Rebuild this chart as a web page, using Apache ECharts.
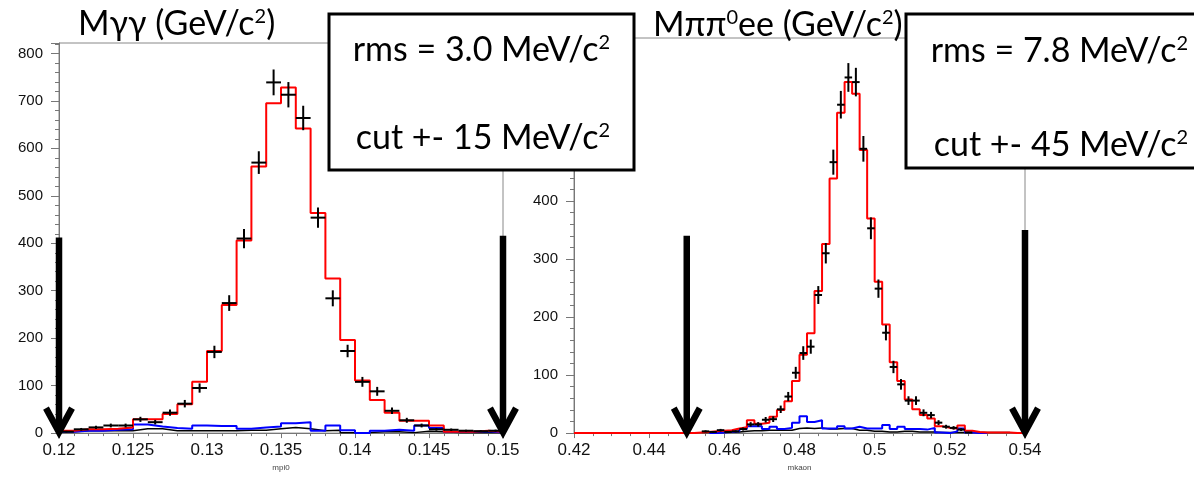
<!DOCTYPE html>
<html>
<head>
<meta charset="utf-8">
<script src="https://cdn.jsdelivr.net/npm/echarts@6/dist/echarts.min.js"></script>
<style>
  html, body { margin: 0; padding: 0; background: #fff; }
  #chart { width: 1194px; height: 477px; }
</style>
</head>
<body>
<div id="chart"></div>
<script>
// left panel: M(gamma gamma), 30 bins of 0.001 from 0.12
var binLoL = 0.12
var binWL = 0.001
var redL = [5, 8, 8, 9, 12, 29, 29, 40, 61, 108, 173, 270, 406, 562, 695, 728, 642, 464, 326, 196, 111, 70, 43, 26, 26, 16, 3, 3, 5, 3]
var dataL = [3, 8, 12, 16, 16, 29, 23, 43, 62, 95, 171, 274, 410, 570, 739, 713, 664, 454, 284, 173, 108, 88, 47, 27, 16, 8, 7, 5, 4, 5]
var blueL = [3, 5, 5, 7, 8, 18, 14, 11, 9, 16, 15, 15, 9, 12, 14, 21, 23, 5, 16, 6, 0, 5, 7, 5, 16, 11, 3, 3, 4, 1]
var blackL = [3, 5, 5, 5, 5, 9, 9, 5, 5, 5, 5, 5, 6, 6, 9, 12, 9, 5, 6, 1, 1, 3, 3, 1, 4, 3, 1, 1, 1, 1]
var arrowsL = [[0.12, 412], [0.15, 416]]

// right panel: M(pi pi0 e e), 60 bins of 0.002 from 0.42
var binLoR = 0.42
var binWR = 0.002
var redR = [0, 0, 0, 0, 0, 0, 0, 0, 0, 0, 0, 0, 0, 0, 0, 0, 1, 2, 3, 4,
  5, 8, 10, 22, 16, 18, 28, 40, 55, 90, 135, 172, 245, 326, 439, 552, 605, 585, 488, 370,
  261, 187, 122, 90, 58, 41, 31, 25, 12, 9, 8, 13, 4, 2, 1, 1, 1, 1, 0, 0]
var dataR = [null, null, null, null, null, null, null, null, null, null, null, null, null, null, null, null, null, 3, 2, 5,
  2, 3, 7, 15, 15, 23, 24, 41, 63, 104, 138, 149, 238, 310, 467, 566, 613, 605, 490, 353,
  249, 173, 114, 84, 56, 56, 35, 31, 18, 11, 9, 6, 1, null, null, null, null, null, null, null]
var blueR = [null, null, null, null, null, null, null, null, null, null, null, null, null, null, null, null, null, null, 0, 1,
  2, 3, 7, 12, 12, 7, 11, 7, 9, 18, 29, 19, 22, 8, 8, 12, 8, 11, 8, 8,
  8, 14, 7, 11, 7, 7, 6, 9, 1, 0, 3, 8, 1, 0, 0, null, null, null, null, null]
var blackR = [null, null, null, null, null, null, null, null, null, null, null, null, null, null, null, null, null, 1, 1, 1,
  2, 2, 3, 4, 4, 5, 5, 5, 5, 8, 9, 8, 9, 7, 7, 8, 8, 5, 5, 3,
  3, 2, 2, 3, 3, 2, 2, 2, 1, 1, 1, 1, 1, 1, 1, 1, 1, 1, null, null]
var arrowsR = [[0.45, 340], [0.54, 350]]

// histogram outline: two points per bin
function histLine(lo, w, vals) {
  var pts = []
  vals.forEach(function(v, i) {
    if (v == null) {
      pts.push([lo + i * w, '-'])
      return
    }
    pts.push([lo + i * w, v], [lo + (i + 1) * w, v])
  })
  return pts
}

// data points: [center, count, half width]
function crossData(lo, w, vals) {
  var out = []
  vals.forEach(function(v, i) {
    if (v == null) return
    out.push([lo + (i + 0.5) * w, v, w / 2])
  })
  return out
}

function crossItem(params, api) {
  var x = api.value(0)
  var n = api.value(1)
  var hw = api.value(2)
  var e = Math.sqrt(n)
  var l = api.coord([x - hw, n])
  var r = api.coord([x + hw, n])
  var lo = api.coord([x, Math.max(n - e, 0)])
  var hi = api.coord([x, n + e])
  var st = { stroke: '#000', lineWidth: 2 }
  return {
    type: 'group',
    children: [
      { type: 'line', shape: { x1: l[0], y1: l[1], x2: r[0], y2: r[1] }, style: st },
      { type: 'line', shape: { x1: lo[0], y1: lo[1], x2: hi[0], y2: hi[1] }, style: st }
    ]
  }
}

function arrowItem(params, api) {
  var top = api.coord([api.value(0), api.value(1)])
  var tip = api.coord([api.value(0), 0])
  var st = { stroke: '#000', lineWidth: 6.5, fill: null, lineJoin: 'miter' }
  return {
    type: 'group',
    children: [
      { type: 'line', shape: { x1: top[0], y1: top[1], x2: tip[0], y2: tip[1] - 4 }, style: st },
      { type: 'polyline', shape: { points: [[tip[0] - 13, tip[1] - 25], [tip[0], tip[1] - 1], [tip[0] + 13, tip[1] - 25]] }, style: st }
    ]
  }
}

function fmtX(v) {
  return String(+v.toFixed(3))
}

var axisGray = '#777'
var labelFont = 'Liberation Sans'

function xAxisCfg(idx, min, max, interval, minorSplit, name) {
  return {
    type: 'value',
    gridIndex: idx,
    min: min,
    max: max,
    interval: interval,
    name: name,
    nameLocation: 'middle',
    nameGap: 29,
    nameTextStyle: { fontSize: 8, color: '#444', fontFamily: labelFont },
    axisLine: { lineStyle: { color: axisGray, width: 1 } },
    axisTick: { length: 5, lineStyle: { color: axisGray } },
    minorTick: { show: true, splitNumber: minorSplit, length: 3, lineStyle: { color: axisGray } },
    splitLine: { show: false },
    axisLabel: { formatter: fmtX, fontSize: 17, color: '#111', fontFamily: labelFont, margin: 9 }
  }
}

function yAxisCfg(idx, max) {
  return {
    type: 'value',
    gridIndex: idx,
    min: 0,
    max: max,
    interval: 100,
    axisLine: { show: true, lineStyle: { color: axisGray, width: 1 } },
    axisTick: { length: 8, lineStyle: { color: axisGray } },
    minorTick: { show: true, splitNumber: 5, length: 4, lineStyle: { color: axisGray } },
    splitLine: { show: false },
    axisLabel: { fontSize: 15, color: '#111', fontFamily: labelFont, margin: 16, showMaxLabel: false }
  }
}

function histSeries(idx, lo, w, vals, color, width, z) {
  return {
    type: 'line',
    xAxisIndex: idx,
    yAxisIndex: idx,
    data: histLine(lo, w, vals),
    symbol: 'none',
    lineStyle: { color: color, width: width },
    z: z,
    silent: true
  }
}

var textFont = 'Lato'
var richText = {
  a: { fontFamily: textFont, fontSize: 34, color: '#000' },
  s: { fontFamily: textFont, fontSize: 20, color: '#000', verticalAlign: 'top' }
}

function slideText(x, y, txt, align, z) {
  return {
    type: 'text',
    x: x,
    y: y,
    z: z,
    style: { text: txt, rich: richText, fill: '#000', align: align, verticalAlign: 'middle' }
  }
}

var chart = echarts.init(document.getElementById('chart'))
chart.setOption({
  animation: false,
  backgroundColor: '#fff',
  grid: [
    { left: 59, top: 43, width: 444, height: 405, show: true, borderColor: '#888', borderWidth: 1, containLabel: false },
    { left: 574, top: 38, width: 451, height: 409, show: true, borderColor: '#888', borderWidth: 1, containLabel: false }
  ],
  xAxis: [
    xAxisCfg(0, 0.12, 0.15, 0.005, 5, 'mpi0'),
    xAxisCfg(1, 0.42, 0.54, 0.02, 4, 'mkaon')
  ],
  yAxis: [
    yAxisCfg(0, 822),
    yAxisCfg(1, 681)
  ],
  series: [
    histSeries(0, binLoL, binWL, blackL, '#000', 1.5, 3),
    histSeries(0, binLoL, binWL, blueL, '#0000ff', 2, 4),
    histSeries(0, binLoL, binWL, redL, '#ff0000', 2, 5),
    { type: 'custom', xAxisIndex: 0, yAxisIndex: 0, renderItem: crossItem, data: crossData(binLoL, binWL, dataL), z: 6, clip: false, silent: true },
    { type: 'custom', xAxisIndex: 0, yAxisIndex: 0, renderItem: arrowItem, data: arrowsL, z: 8, clip: false, silent: true },
    histSeries(1, binLoR, binWR, blackR, '#000', 1.5, 3),
    histSeries(1, binLoR, binWR, blueR, '#0000ff', 2, 4),
    histSeries(1, binLoR, binWR, redR, '#ff0000', 2, 5),
    { type: 'custom', xAxisIndex: 1, yAxisIndex: 1, renderItem: crossItem, data: crossData(binLoR, binWR, dataR), z: 6, clip: false, silent: true },
    { type: 'custom', xAxisIndex: 1, yAxisIndex: 1, renderItem: arrowItem, data: arrowsR, z: 8, clip: false, silent: true }
  ],
  graphic: [
    { type: 'rect', z: 100, shape: { x: 329, y: 14, width: 305, height: 156 }, style: { fill: '#fff', stroke: '#000', lineWidth: 3 } },
    { type: 'rect', z: 100, shape: { x: 906, y: 14, width: 300, height: 154 }, style: { fill: '#fff', stroke: '#000', lineWidth: 3 } },
    slideText(610, 50, '{a|rms = 3.0 MeV/c}{s|2}', 'right', 101),
    slideText(610, 138, '{a|cut +- 15 MeV/c}{s|2}', 'right', 101),
    slideText(1188, 51, '{a|rms = 7.8 MeV/c}{s|2}', 'right', 101),
    slideText(1188, 145, '{a|cut +- 45 MeV/c}{s|2}', 'right', 101),
    slideText(78, 24, '{a|Mγγ (GeV/c}{s|2}{a|)}', 'left', 101),
    slideText(653, 25, '{a|Mππ}{s|0}{a|ee (GeV/c}{s|2}{a|)}', 'left', 99)
  ]
})
</script>
</body>
</html>
